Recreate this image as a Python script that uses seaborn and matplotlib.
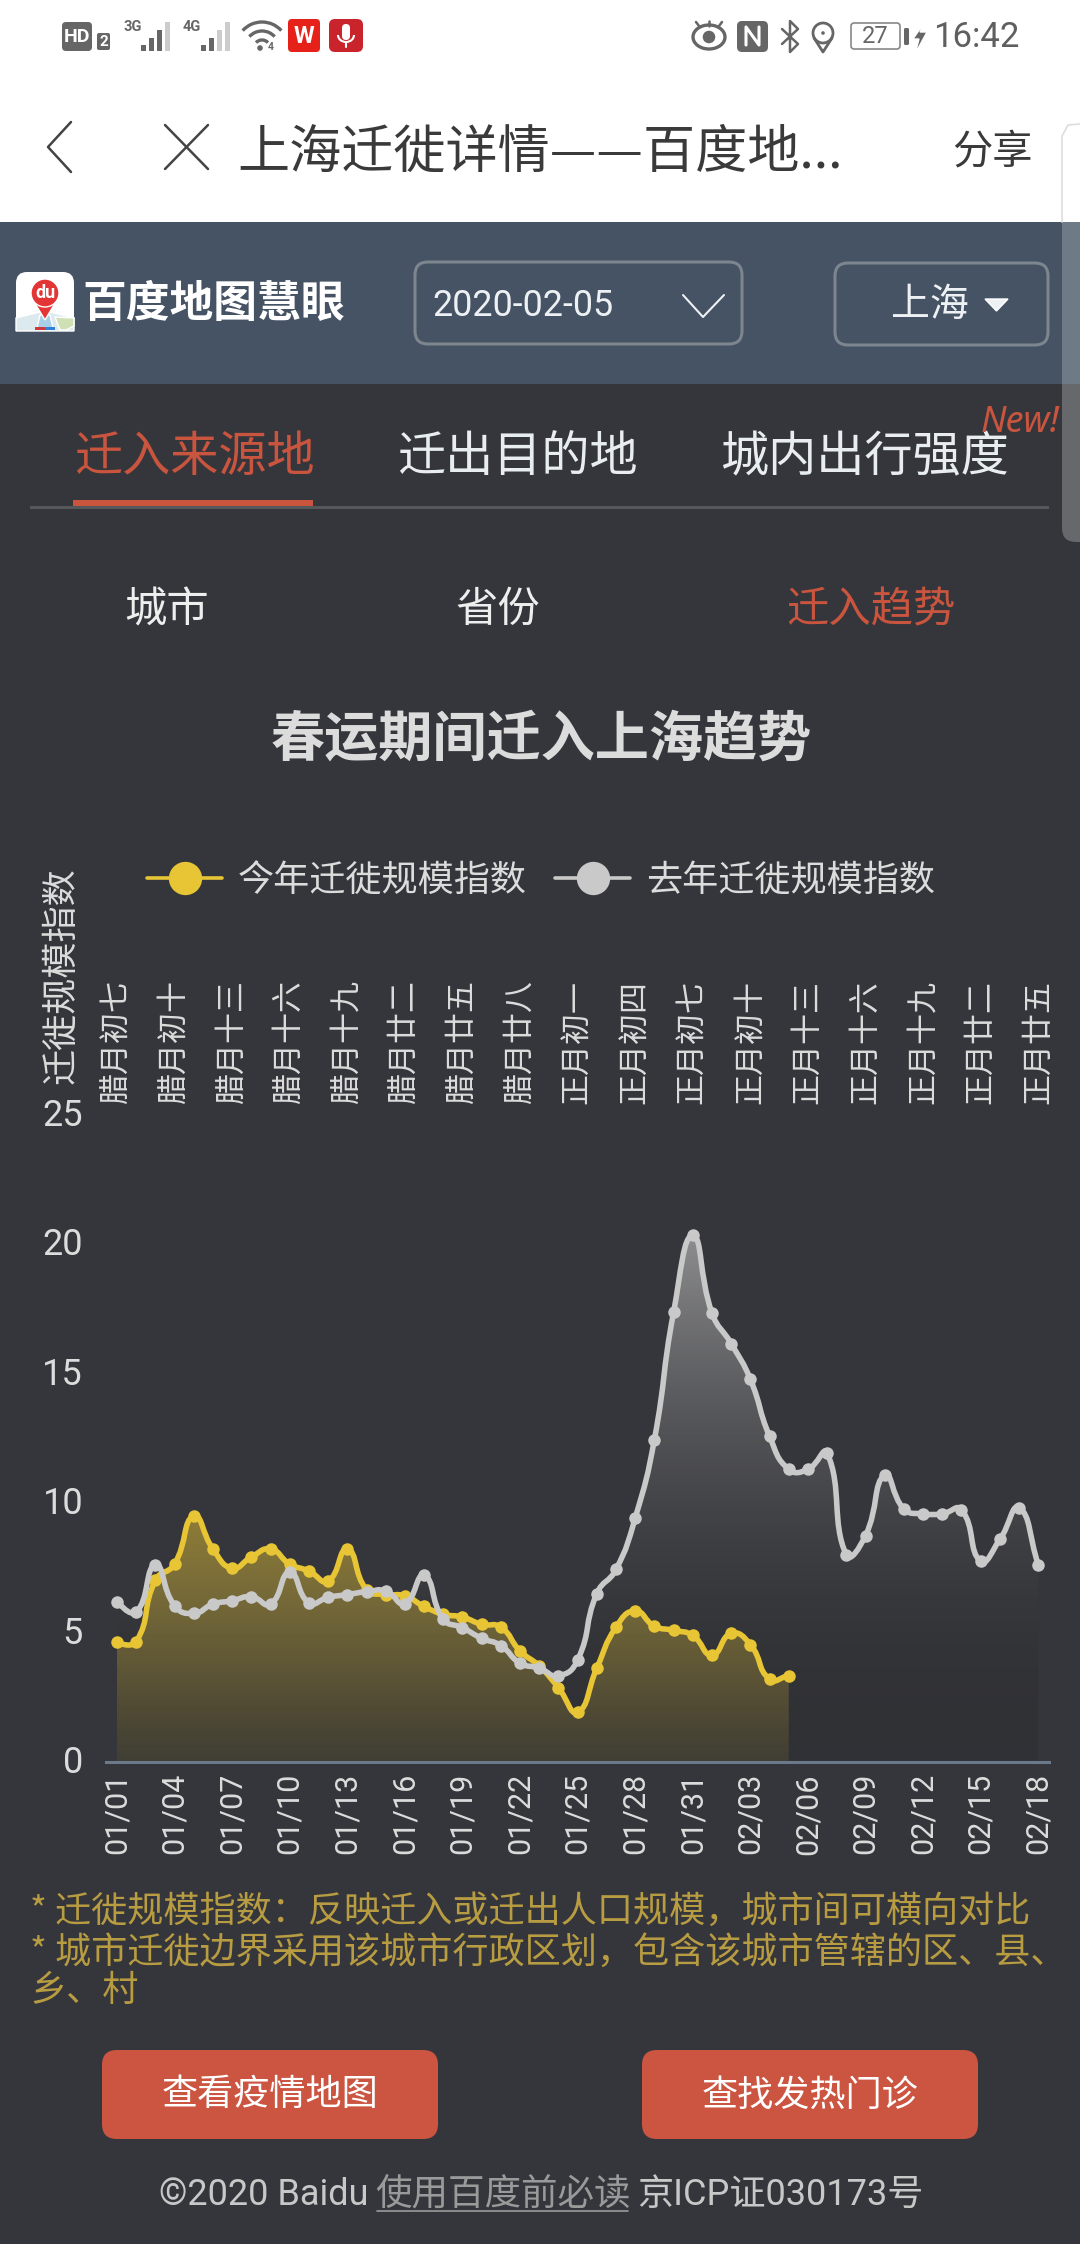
import numpy as np
import pandas as pd
import seaborn as sns
import matplotlib.pyplot as plt
from matplotlib.lines import Line2D
from matplotlib.patches import Circle, FancyBboxPatch, PathPatch, Polygon, Rectangle, Arc
from matplotlib.path import Path
from matplotlib.transforms import ScaledTranslation

dates = [d.strftime("%m/%d") for d in pd.date_range("2020-01-01", "2020-02-18")]

this_year = [4.62, 4.65, 7.02, 7.65, 9.51, 8.23, 7.49, 7.92, 8.23, 7.65, 7.38, 6.99,
             8.23, 6.66, 6.47, 6.42, 6.01, 5.71, 5.60, 5.32, 5.21, 4.29, 3.71, 2.87,
             1.92, 3.63, 5.21, 5.84, 5.25, 5.09, 4.89, 4.13, 4.97, 4.54, 3.20, 3.34]
last_year = [6.20, 5.79, 7.62, 6.04, 5.74, 6.10, 6.23, 6.39, 6.10, 7.33, 6.15, 6.36,
             6.47, 6.58, 6.61, 6.12, 7.21, 5.52, 5.19, 4.78, 4.50, 3.82, 3.63, 3.33,
             3.94, 6.51, 7.44, 9.43, 12.46, 17.38, 20.35, 17.35, 16.17, 14.79, 12.59,
             11.31, 11.31, 11.94, 8.00, 8.75, 11.09, 9.78, 9.59, 9.59, 9.75, 7.76,
             8.60, 9.83, 7.63]

lunar_labels = ["腊月初七", "腊月初十", "腊月十三", "腊月十六", "腊月十九", "腊月廿二",
                "腊月廿五", "腊月廿八", "正月初一", "正月初四", "正月初七", "正月初十",
                "正月十三", "正月十六", "正月十九", "正月廿二", "正月廿五"]
y_ticks = [0, 5, 10, 15, 20, 25]
series_names = ["今年迁徙规模指数", "去年迁徙规模指数"]

BG = "#35363b"
HEADER = "#455364"
RED = "#c9553f"
YELLOW = "#e8c534"
GRAY = "#c9c9c9"
TEXT = "#dcdcdc"
ICON = "#666666"

sns.set_theme(style="dark", rc={"axes.facecolor": "none", "figure.facecolor": BG})
plt.rcParams["font.family"] = ["Noto Sans CJK SC", "DejaVu Sans"]
ROBOTO = ["Roboto", "Noto Sans CJK SC"]

W, H = 1080, 2244
fig = plt.figure(figsize=(W / 100, H / 100), dpi=100)

# page furniture, drawn in pixel coordinates
ui = fig.add_axes([0, 0, 1, 1], zorder=0)
ui.set_xlim(0, W)
ui.set_ylim(H, 0)
ui.axis("off")


def label(x, y, s, size, color=TEXT, ha="left", **kw):
    # the font boxes sit a little high, nudge the text back down
    y += size * (0.07 if "family" in kw else 0.13)
    return ui.text(x, y, s, fontsize=size, color=color, ha=ha, va="center", **kw)


def box(x0, y0, x1, y1, r=0, fc="none", ec="none", lw=0, **kw):
    p = FancyBboxPatch((x0, y0), x1 - x0, y1 - y0, boxstyle=f"round,pad=0,rounding_size={r}",
                       fc=fc, ec=ec, lw=lw, **kw)
    ui.add_patch(p)
    return p


def rect(x0, y0, x1, y1, color):
    ui.add_patch(Rectangle((x0, y0), x1 - x0, y1 - y0, fc=color, ec="none"))


def stroke(xs, ys, color, lw):
    ui.plot(xs, ys, color=color, lw=lw, solid_capstyle="round", solid_joinstyle="round")


rect(0, 0, W, 222, "white")
rect(0, 222, W, 384, HEADER)
rect(0, 384, W, H, BG)

# scrollbar overlay on the right
stroke([1062, 1062, 1068, 1080], [222, 136, 125, 124], "#dddddd", 1.2)
rect(1062, 222, W, 384, "#6f7a87")
box(1062, 370, W + 20, 542, r=14, fc="#67686c")
rect(1062, 370, W, 384, "#6f7a87")

# status bar, left
box(62, 22, 92, 51, r=4, fc=ICON)
label(77, 36, "HD", 14, "white", ha="center", family=ROBOTO, weight="bold")
box(97, 33, 110, 50, r=2, fc=ICON)
label(103.5, 41, "2", 11, "white", ha="center", family=ROBOTO, weight="bold")
label(123, 26, "3G", 10.5, ICON, family=ROBOTO, weight="bold")
label(183, 26, "4G", 10.5, ICON, family=ROBOTO, weight="bold")
for x0, n_dark in [(141, 3), (201, 2)]:
    for i, h in enumerate([6, 13, 21, 29]):
        col = ICON if i < n_dark else "#cccccc"
        rect(x0 + i * 8, 51 - h, x0 + i * 8 + 4.5, 51, col)
for r in [8, 17, 26]:
    ui.add_patch(Arc((262, 48), r * 2, r * 2, theta1=222, theta2=318, color=ICON, lw=2.4))
ui.add_patch(Circle((260, 48), 3.5, fc=ICON))
label(268, 46, "4", 7.5, ICON, family=ROBOTO, weight="bold")
box(288, 19, 320, 52, r=4, fc="#e6211a")
label(304, 35, "W", 17, "white", ha="center", family=ROBOTO, weight="bold")
box(329, 19, 363, 52, r=6, fc="#c9242b")
box(342, 24, 350, 40, r=4, fc="white")
ui.add_patch(Arc((346, 35), 16, 14, theta1=0, theta2=180, color="white", lw=1.5))
stroke([346, 346], [42, 47], "white", 1.5)

# status bar, right
ui.add_patch(Arc((709, 37), 32, 24, color=ICON, lw=2.4))
ui.add_patch(Circle((709, 37), 7, fc=ICON))
for x0, x1, y1 in [(699, 696, 22), (709, 709, 21), (719, 722, 22)]:
    stroke([x0, x1], [26, y1], ICON, 1.8)
box(737, 21, 768, 52, r=5, fc=ICON)
stroke([746, 746, 759, 759], [45, 27, 45, 27], "white", 2.2)
stroke([782, 798, 790, 790, 798, 782], [29, 44, 52, 21, 29, 44], ICON, 1.8)
ui.add_patch(Circle((823, 33), 10, fc="none", ec=ICON, lw=2))
ui.add_patch(Circle((823, 33), 2.5, fc=ICON))
stroke([814, 823, 832], [38, 52, 38], ICON, 2)
box(851, 23, 900, 49, r=3, ec="#888888", lw=1.2)
label(875, 35, "27", 17, ICON, ha="center", family=ROBOTO)
box(904, 28, 909, 45, r=1.5, fc=ICON)
ui.add_patch(Polygon([[926, 20], [913, 39], [919, 39], [915, 54], [927, 32], [920, 32]], fc=ICON))
label(933, 36, "16:42", 25, "#5f5f5f", family=ROBOTO)

# browser bar
stroke([71, 48, 71], [122, 147, 172], "#444444", 1.8)
stroke([165, 208], [125, 169], "#444444", 1.8)
stroke([208, 165], [125, 169], "#444444", 1.8)
label(237, 148, "上海迁徙详情——百度地...", 37.5, "#3a3a3a")
label(952, 148, "分享", 29, "#3a3a3a")

# logo and selectors
box(16, 272, 74, 331, r=11, fc="white")
ui.add_patch(Polygon([[16, 331], [16, 318], [40, 312], [50, 312], [74, 318], [74, 331]], fc="#dce9ee"))
ui.add_patch(Polygon([[55, 317], [74, 318], [74, 326], [66, 330], [60, 330]], fc="#cfe0b4"))
ui.add_patch(Polygon([[40, 315], [50, 315], [53, 328], [37, 328]], fc="#a8cfe8"))
rect(35, 327, 45, 330, "#d0393b")
rect(45, 327, 55, 330, "#2f7fd8")
ui.add_patch(Polygon([[33, 300], [57, 300], [45, 320]], fc="#e33535"))
ui.add_patch(Circle((45, 293), 14, fc="#e33535"))
label(45, 292, "du", 13, "white", ha="center", family=ROBOTO, weight="bold")
label(82, 300, "百度地图慧眼", 31.5, "white", weight="bold")

box(415, 262, 742, 344, r=13, ec="#7d858f", lw=2.2)
label(432, 304, "2020-02-05", 25.8, "#eef1f4", family=ROBOTO)
stroke([683, 703, 724], [295, 317, 295], "#eef1f4", 1.5)
box(835, 263, 1048, 345, r=13, ec="#7d858f", lw=2.2)
label(891, 301, "上海", 28, "#eef1f4")
ui.add_patch(Polygon([[985, 299], [1008, 299], [996.5, 311]], fc="#eef1f4"))

# tabs
label(74, 453, "迁入来源地", 34.7, RED)
label(397, 453, "迁出目的地", 34.7, "#e8edf0")
label(720, 453, "城内出行强度", 34.7, "#e8edf0")
label(981, 421, "New!", 26, RED, style="italic", family=["Noto Sans", "DejaVu Sans"])
rect(30, 506, 1049, 509, "#56575b")
rect(73, 500, 313, 506, RED)
label(167, 606, "城市", 30.5, "#eeeeee", ha="center")
label(498, 606, "省份", 30.5, "#eeeeee", ha="center")
label(871, 606, "迁入趋势", 30.5, RED, ha="center")
label(541, 735, "春运期间迁入上海趋势", 39, TEXT, ha="center", weight="bold")

# footnotes, buttons, footer
NOTE = "#b89c42"
label(30, 1908, "* 迁徙规模指数：反映迁入或迁出人口规模，城市间可横向对比", 26, NOTE)
label(30, 1949, "* 城市迁徙边界采用该城市行政区划，包含该城市管辖的区、县、", 26, NOTE)
label(30, 1988, "乡、村", 26, NOTE)
box(102, 2050, 438, 2139, r=15, fc="#cc5542")
box(642, 2050, 978, 2139, r=15, fc="#cc5542")
label(270, 2092, "查看疫情地图", 26, "white", ha="center")
label(810, 2092, "查找发热门诊", 26, "white", ha="center")
label(159, 2193, "©2020 Baidu", 26, "#c8c8c8", family=ROBOTO)
label(375, 2192, "使用百度前必读", 26.3, "#9a9a9a")
stroke([377, 628], [2211, 2211], "#9a9a9a", 1.2)
label(637, 2193, "京ICP证030173号", 26, "#c8c8c8", family=ROBOTO)

# the chart itself
left, right, top, bottom = 106, 1049, 1115, 1762
ax = fig.add_axes([left / W, 1 - bottom / H, (right - left) / W, (bottom - top) / H], zorder=1)
x_min, x_max = -0.573, 48.56
px_x = (right - left) / (x_max - x_min)
px_y = (bottom - top) / 25


def smooth_path(xs, ys, smooth=0.5):
    # bezier control points the way the original chart library builds them
    pts = np.column_stack([np.asarray(xs, float) * px_x, np.asarray(ys, float) * px_y])
    verts, codes = [pts[0]], [Path.MOVETO]
    cp = pts[0]
    for i in range(1, len(pts)):
        cur, prev = pts[i], pts[i - 1]
        nxt = pts[min(i + 1, len(pts) - 1)]
        v = nxt - prev
        d0, d1 = np.linalg.norm(cur - prev), np.linalg.norm(nxt - cur)
        ratio = d1 / (d0 + d1) if d0 + d1 else 0
        verts += [cp, cur - v * smooth * (1 - ratio), cur]
        codes += [Path.CURVE4] * 3
        cp = cur + v * smooth * ratio
    return np.array(verts) / [px_x, px_y], codes


def area(verts, codes, rgba_top, rgba_bottom, ymax, z):
    poly = Path(np.vstack([verts, [verts[-1][0], 0], [verts[0][0], 0], verts[0]]),
                codes + [Path.LINETO, Path.LINETO, Path.CLOSEPOLY])
    t = np.linspace(0, 1, 256)[:, None, None]
    grad = np.array(rgba_bottom)[None, None, :] * (1 - t) + np.array(rgba_top)[None, None, :] * t
    im = ax.imshow(grad, extent=[verts[0][0], verts[-1][0], 0, ymax], origin="lower",
                   aspect="auto", interpolation="bilinear", zorder=z)
    im.set_clip_path(PathPatch(poly, transform=ax.transData))


df_last = pd.DataFrame({"day": range(len(last_year)), "date": dates, "value": last_year})
df_this = pd.DataFrame({"day": range(len(this_year)), "date": dates[:len(this_year)], "value": this_year})

v_last, c_last = smooth_path(df_last["day"], df_last["value"])
v_this, c_this = smooth_path(df_this["day"], df_this["value"])
area(v_last, c_last, (0.79, 0.79, 0.79, 0.6), (0, 0, 0, 0.08), max(last_year), 1)
area(v_this, c_this, (0.91, 0.77, 0.2, 0.5), (0.91, 0.77, 0.2, 0.09), max(this_year), 2)

ax.add_patch(PathPatch(Path(v_this, c_this), fc="none", ec=YELLOW, lw=4.0, zorder=3))
sns.lineplot(data=df_this, x="day", y="value", ax=ax, color=YELLOW, linestyle="", marker="o",
             markersize=9, markeredgewidth=0, errorbar=None, zorder=3.5)
ax.add_patch(PathPatch(Path(v_last, c_last), fc="none", ec=GRAY, lw=4.0, zorder=4))
sns.lineplot(data=df_last, x="day", y="value", ax=ax, color=GRAY, linestyle="", marker="o",
             markersize=9, markeredgewidth=0, errorbar=None, zorder=4.5)

ax.set_xlim(x_min, x_max)
ax.set_ylim(0, 25)
ax.set_xticks(df_last["day"][::3])
ax.set_xticklabels(dates[::3], rotation=90, fontsize=22, color=TEXT, family="Roboto")
ax.set_yticks(y_ticks)
ax.set_yticklabels(y_ticks, fontsize=26, color=TEXT, family="Roboto")
ax.tick_params(axis="x", length=0, pad=8)
ax.tick_params(axis="y", length=0, pad=16.5)
lift = ScaledTranslation(0, 3 / 100, fig.dpi_scale_trans)
for t in ax.get_yticklabels():
    t.set_transform(t.get_transform() + lift)
ax.grid(False)
ax.set_xlabel("")
ax.set_ylabel("迁徙规模指数", fontsize=26, color=TEXT, va="center")
ax.yaxis.set_label_coords((61 - left) / (right - left), (bottom - 976) / (bottom - top))
sns.despine(ax=ax, left=True)
ax.spines["bottom"].set_color("#6b7a8a")
ax.spines["bottom"].set_linewidth(2.2)

lunar = ax.twiny()
lunar.set_xlim(x_min, x_max)
lunar.set_xticks(df_last["day"][::3])
lunar.set_xticklabels(lunar_labels, rotation=90, fontsize=22.3, color=TEXT)
lunar.tick_params(axis="x", length=0, pad=8)
lunar.grid(False)
for s in lunar.spines.values():
    s.set_visible(False)

handles = [Line2D([], [], color=c, lw=2.6, marker="o", markersize=24, markeredgewidth=0)
           for c in (YELLOW, GRAY)]
ax.legend(handles, series_names, ncol=2, loc="center left", bbox_to_anchor=(147 / W, 1 - 881 / H),
          bbox_transform=fig.transFigure, frameon=False, fontsize=26, labelcolor=TEXT, borderpad=0,
          borderaxespad=0, handlelength=2.08, handletextpad=0.44, columnspacing=0.78)

fig.savefig("out.png", dpi=100, facecolor=BG)
